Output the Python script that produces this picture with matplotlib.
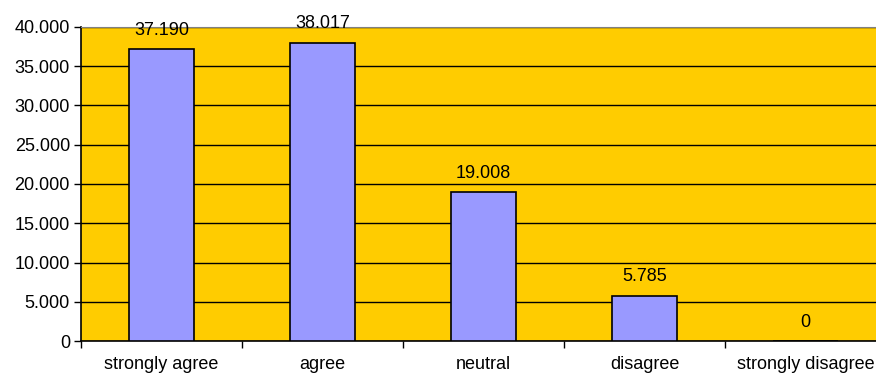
import numpy as np
import matplotlib.pyplot as plt
from matplotlib.ticker import FuncFormatter

categories = ['strongly agree', 'agree', 'neutral', 'disagree', 'strongly disagree']
values = [37190, 38017, 19008, 5785, 0]

plt.rcParams['font.family'] = ['Liberation Sans', 'DejaVu Sans']


def dotted(v, pos=None):
    return f"{int(round(v)):,}".replace(',', '.')


fig = plt.figure(figsize=(8.76, 3.77), dpi=100)
ax = fig.add_axes([81 / 876, 36 / 377, 805 / 876, 314 / 377])
ax.set_facecolor('#FFCC00')

x = np.arange(len(categories))
ax.bar(x, values, width=0.4, color='#9999FF', edgecolor='black', linewidth=1.2, zorder=3)

for xi, v in zip(x, values):
    ax.text(xi, v + 1300, dotted(v), ha='center', va='bottom', fontsize=13)

ax.set_xlim(-0.5, len(categories) - 0.5)
ax.set_ylim(0, 40000)
ax.set_yticks(np.arange(0, 40001, 5000))
ax.yaxis.set_major_formatter(FuncFormatter(dotted))
ax.yaxis.grid(True, color='black', linewidth=1.0, zorder=1)

ax.set_xticks(x)
ax.set_xticklabels(categories)
ax.set_xticks(np.arange(-0.5, len(categories)), minor=True)
ax.tick_params(axis='x', which='major', length=0, pad=11, labelsize=13)
ax.tick_params(axis='x', which='minor', length=5, width=1, direction='out')
ax.tick_params(axis='y', length=5, width=1, labelsize=13, pad=3)

ax.spines['top'].set_color('#808080')
ax.spines['left'].set_linewidth(1.2)
ax.spines['bottom'].set_linewidth(1.2)
ax.spines['right'].set_visible(False)

fig.savefig('out.png', dpi=100)
